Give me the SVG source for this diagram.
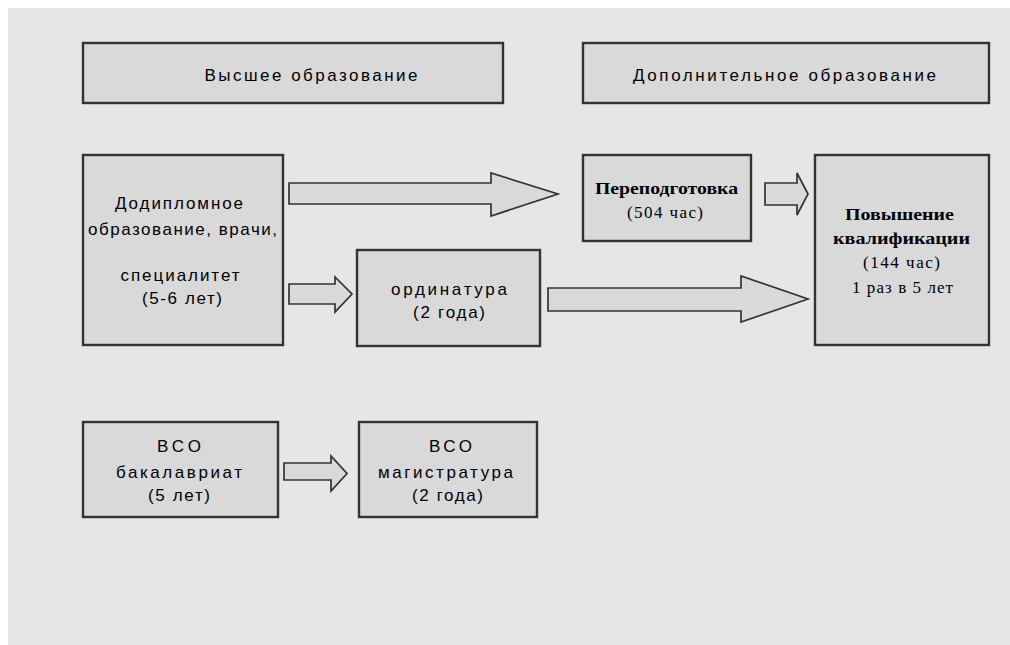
<svg xmlns="http://www.w3.org/2000/svg" width="1010" height="645" viewBox="0 0 1010 645">
  <style>
    .box { fill: #d9d9d9; stroke: #333333; stroke-width: 2.4; }
    .arrow { fill: #d9d9d9; stroke: #333333; stroke-width: 1.7; stroke-linejoin: miter; }
    .sans { font-family: "Liberation Sans", Arial, sans-serif; font-size: 17px; fill: #000; text-anchor: middle; }
    .serif { font-family: "Liberation Serif", "Times New Roman", serif; font-size: 17px; fill: #000; text-anchor: middle; }
    .bold { font-weight: bold; }
  </style>
  <rect x="0" y="0" width="1010" height="645" fill="#ffffff"/>
  <rect x="8" y="8" width="1002" height="637" fill="#e6e6e6"/>

  <g id="connectors">
    <polygon class="arrow" points="289,183 491,183 491,173 558,194 491,216 491,204 289,204"/>
    <polygon class="arrow" points="765,183 797,183 797,173 808,194 797,215 797,205 765,205"/>
    <polygon class="arrow" points="289,284 335,284 335,277 352,294 335,312 335,304 289,304"/>
    <polygon class="arrow" points="548,288 741,288 741,276 808,299 741,322 741,311 548,311"/>
    <polygon class="arrow" points="284,463 331,463 331,456 347,473.5 331,491 331,480 284,480"/>
  </g>

  <g id="header-higher">
    <rect class="box" x="83" y="43" width="420" height="60"/>
    <text class="sans" x="311" y="81" textLength="213" lengthAdjust="spacing">Высшее образование</text>
  </g>

  <g id="header-additional">
    <rect class="box" x="583" y="43" width="406" height="60"/>
    <text class="sans" x="784.5" y="81" textLength="303" lengthAdjust="spacing">Дополнительное образование</text>
  </g>

  <g id="node-predip">
    <rect class="box" x="83" y="155" width="200" height="190"/>
    <text class="sans" x="179" y="209" textLength="128" lengthAdjust="spacing">Додипломное</text>
    <text class="sans" x="182.5" y="235" textLength="189" lengthAdjust="spacing">образование, врачи,</text>
    <text class="sans" x="180" y="281" textLength="119" lengthAdjust="spacing">специалитет</text>
    <text class="sans" x="182" y="304" textLength="80" lengthAdjust="spacing">(5-6 лет)</text>
  </g>

  <g id="node-retraining">
    <rect class="box" x="583" y="155" width="168" height="86"/>
    <text class="serif bold" x="666.5" y="194" textLength="143" lengthAdjust="spacingAndGlyphs">Переподготовка</text>
    <text class="serif" x="665" y="218" textLength="76" lengthAdjust="spacing">(504 час)</text>
  </g>

  <g id="node-qualification">
    <rect class="box" x="815" y="155" width="174" height="190"/>
    <text class="serif bold" x="899.5" y="220" textLength="109" lengthAdjust="spacingAndGlyphs">Повышение</text>
    <text class="serif bold" x="901.5" y="244" textLength="137" lengthAdjust="spacingAndGlyphs">квалификации</text>
    <text class="serif" x="901.5" y="268" textLength="77" lengthAdjust="spacing">(144 час)</text>
    <text class="serif" x="902.5" y="293" textLength="101" lengthAdjust="spacing">1 раз в 5 лет</text>
  </g>

  <g id="node-residency">
    <rect class="box" x="357" y="250" width="183" height="96"/>
    <text class="sans" x="449" y="295" textLength="116" lengthAdjust="spacing">ординатура</text>
    <text class="sans" x="449" y="318" textLength="72" lengthAdjust="spacing">(2 года)</text>
  </g>

  <g id="node-bachelor">
    <rect class="box" x="83" y="422" width="195" height="95"/>
    <text class="sans" x="179" y="452" textLength="44" lengthAdjust="spacing">ВСО</text>
    <text class="sans" x="179" y="478" textLength="126" lengthAdjust="spacing">бакалавриат</text>
    <text class="sans" x="179" y="501" textLength="62" lengthAdjust="spacing">(5 лет)</text>
  </g>

  <g id="node-master">
    <rect class="box" x="359" y="422" width="178" height="95"/>
    <text class="sans" x="450.5" y="452" textLength="43" lengthAdjust="spacing">ВСО</text>
    <text class="sans" x="445.5" y="478" textLength="135" lengthAdjust="spacing">магистратура</text>
    <text class="sans" x="447.5" y="501" textLength="71" lengthAdjust="spacing">(2 года)</text>
  </g>
</svg>
